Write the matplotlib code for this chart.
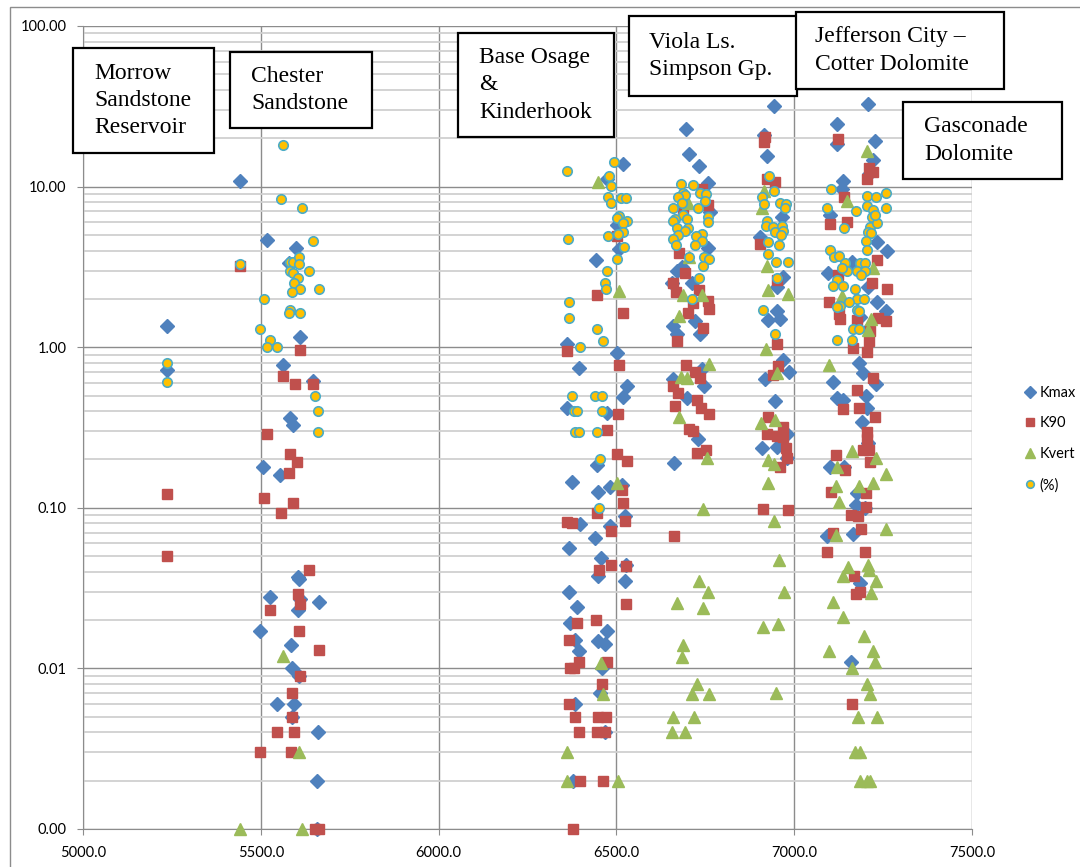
import matplotlib
matplotlib.use("Agg")
import matplotlib.pyplot as plt
from matplotlib.patches import Rectangle
from matplotlib.lines import Line2D
from matplotlib.ticker import LogLocator, NullFormatter, FixedLocator, FuncFormatter
import numpy as np

# (depth, value), grouped by formation
kmax = [
    # Morrow
    (5236, 1.36), (5236, 0.72),
    # Chester
    (5442, 10.8), (5517, 4.65), (5599, 4.15), (5579, 3.35), (5610, 1.16), (5562, 0.77),
    (5647, 0.62), (5582, 0.36), (5591, 0.33), (5506, 0.18), (5554, 0.16), (5605, 0.037),
    (5607, 0.036), (5526, 0.028), (5610, 0.027), (5664, 0.026), (5605, 0.023), (5498, 0.017),
    (5585, 0.014), (5588, 0.010), (5607, 0.009), (5546, 0.006), (5593, 0.006), (5588, 0.005),
    (5661, 0.004), (5658, 0.002), (5658, 0.001),
    # Base Osage & Kinderhook
    (6519, 13.8), (6474, 11.1), (6502, 5.75), (6507, 4.1), (6443, 3.5), (6361, 1.05),
    (6502, 0.92), (6395, 0.74), (6530, 0.57), (6519, 0.49), (6361, 0.42), (6474, 0.39),
    (6446, 0.185), (6375, 0.145), (6448, 0.125), (6482, 0.135), (6516, 0.139), (6524, 0.089),
    (6398, 0.079), (6482, 0.077), (6440, 0.065), (6367, 0.056), (6457, 0.049), (6448, 0.0376),
    (6527, 0.044), (6524, 0.035), (6367, 0.030), (6389, 0.024), (6370, 0.0192), (6474, 0.0171),
    (6384, 0.015), (6448, 0.0148), (6468, 0.0142), (6395, 0.0128), (6460, 0.010), (6454, 0.007),
    (6384, 0.006), (6468, 0.004), (6378, 0.002),
    # Viola / Simpson
    (6696, 22.8), (6704, 16.0), (6732, 13.4), (6758, 10.5), (6763, 6.95), (6758, 4.15),
    (6671, 3.0), (6685, 3.15), (6657, 2.5), (6713, 2.5), (6659, 1.355), (6721, 1.45),
    (6735, 1.21), (6671, 1.21), (6659, 0.63), (6741, 0.73), (6746, 0.575), (6699, 0.48),
    (6730, 0.27), (6662, 0.19),
    # ~6900-6990
    (6943, 31.8), (6915, 21.0), (6924, 15.5), (6966, 6.45), (6904, 4.85), (6969, 2.75),
    (6952, 2.37), (6952, 1.67), (6927, 1.47), (6960, 1.5), (6969, 0.83), (6986, 0.70),
    (6918, 0.63), (6946, 0.465), (6980, 0.29), (6910, 0.235), (6952, 0.24), (6980, 0.204),
    # Jefferson City / Gasconade
    (7208, 32.7), (7121, 24.5), (7227, 19.2), (7121, 18.4), (7222, 14.6), (7211, 12.0),
    (7137, 10.8), (7135, 9.65), (7233, 4.5), (7261, 3.95), (7101, 6.65), (7163, 3.4),
    (7095, 2.9), (7208, 2.37), (7233, 1.92), (7258, 1.67), (7185, 1.55), (7208, 1.3),
    (7182, 0.8), (7194, 0.69), (7109, 0.607), (7230, 0.59), (7121, 0.485), (7137, 0.47),
    (7202, 0.50), (7205, 0.42), (7191, 0.34), (7208, 0.253), (7101, 0.18), (7140, 0.18),
    (7177, 0.123), (7174, 0.104), (7199, 0.1), (7093, 0.067), (7166, 0.069), (7185, 0.034),
    (7160, 0.011),
]

k90 = [
    (5236, 0.122), (5236, 0.050),
    (5442, 3.2), (5610, 0.96), (5562, 0.66), (5596, 0.59), (5647, 0.59), (5517, 0.29),
    (5582, 0.216), (5602, 0.193), (5579, 0.165), (5509, 0.115), (5591, 0.107), (5557, 0.093),
    (5636, 0.041), (5605, 0.029), (5610, 0.025), (5526, 0.023), (5607, 0.017), (5664, 0.013),
    (5610, 0.009), (5588, 0.007), (5588, 0.005), (5546, 0.004), (5593, 0.004), (5498, 0.003),
    (5585, 0.003), (5652, 0.001), (5664, 0.001),
    (6502, 4.9), (6446, 2.1), (6519, 1.63), (6361, 0.95), (6507, 0.78), (6505, 0.384),
    (6474, 0.305), (6502, 0.216), (6530, 0.195), (6516, 0.129), (6519, 0.107), (6446, 0.093),
    (6361, 0.081), (6375, 0.080), (6524, 0.083), (6485, 0.072), (6451, 0.041), (6485, 0.044),
    (6527, 0.0435), (6527, 0.025), (6443, 0.020), (6389, 0.0192), (6367, 0.015), (6395, 0.011),
    (6370, 0.010), (6381, 0.010), (6474, 0.011), (6460, 0.008), (6367, 0.006), (6384, 0.005),
    (6448, 0.005), (6471, 0.005), (6395, 0.004), (6446, 0.004), (6468, 0.004), (6398, 0.002),
    (6462, 0.002), (6378, 0.001),
    (6741, 9.65), (6758, 7.65), (6687, 6.95), (6676, 3.85), (6693, 2.9), (6659, 2.5),
    (6668, 2.2), (6732, 2.27), (6716, 1.89), (6758, 1.94), (6761, 1.74), (6701, 1.63),
    (6744, 1.32), (6671, 1.1), (6696, 0.78), (6721, 0.7), (6735, 0.64), (6659, 0.57),
    (6673, 0.518), (6727, 0.47), (6665, 0.43), (6738, 0.42), (6761, 0.384), (6704, 0.31),
    (6716, 0.30), (6727, 0.22), (6752, 0.23), (6662, 0.067),
    (6918, 20.4), (6915, 19.0), (6946, 10.7), (6924, 11.1), (6904, 4.4), (6952, 2.62),
    (6952, 1.05), (6955, 0.76), (6941, 0.67), (6927, 0.365), (6924, 0.29), (6952, 0.28),
    (6969, 0.32), (6969, 0.275), (6977, 0.235), (6980, 0.204), (6960, 0.18), (6913, 0.098),
    (6983, 0.097),
    (7123, 19.8), (7211, 13.1), (7222, 12.3), (7205, 11.1), (7140, 8.6), (7101, 5.85),
    (7149, 6.0), (7123, 2.8), (7233, 3.5), (7219, 2.5), (7261, 2.3), (7098, 1.92),
    (7126, 1.6), (7129, 1.49), (7236, 1.53), (7258, 1.45), (7177, 1.47), (7213, 1.27),
    (7211, 1.1), (7166, 0.99), (7205, 0.93), (7222, 0.64), (7177, 0.54), (7137, 0.415),
    (7182, 0.42), (7227, 0.365), (7205, 0.297), (7205, 0.27), (7194, 0.23), (7211, 0.23),
    (7213, 0.193), (7118, 0.213), (7143, 0.172), (7104, 0.125), (7202, 0.123), (7202, 0.101),
    (7160, 0.090), (7180, 0.089), (7188, 0.074), (7109, 0.070), (7093, 0.053), (7199, 0.053),
    (7168, 0.0376), (7185, 0.030), (7174, 0.029), (7163, 0.006),
]

kvert = [
    (5562, 0.012), (5607, 0.003), (5442, 0.001), (5616, 0.001),
    (6448, 10.7), (6507, 2.25), (6502, 0.143), (6457, 0.0108), (6462, 0.0069), (6361, 0.003),
    (6361, 0.002), (6505, 0.002),
    (6701, 7.85), (6704, 3.65), (6687, 2.1), (6741, 2.1), (6676, 1.57), (6761, 0.79),
    (6682, 0.65), (6699, 0.64), (6676, 0.37), (6755, 0.204), (6744, 0.098), (6732, 0.035),
    (6758, 0.030), (6671, 0.0255), (6744, 0.0237), (6687, 0.014), (6685, 0.0118), (6727, 0.008),
    (6713, 0.0069), (6761, 0.0069), (6659, 0.005), (6718, 0.005), (6657, 0.004), (6693, 0.004),
    (6915, 9.4), (6910, 7.35), (6924, 3.2), (6927, 2.27), (6983, 2.15), (6921, 0.97),
    (6952, 0.69), (6907, 0.335), (6946, 0.35), (6927, 0.198), (6943, 0.188), (6927, 0.143),
    (6943, 0.083), (6958, 0.047), (6972, 0.030), (6913, 0.018), (6955, 0.019), (6949, 0.007),
    (7205, 16.7), (7149, 8.1), (7222, 3.1), (7135, 2.07), (7216, 1.5), (7208, 1.28),
    (7098, 0.77), (7163, 0.225), (7230, 0.204), (7121, 0.18), (7258, 0.162), (7118, 0.137),
    (7182, 0.137), (7222, 0.143), (7126, 0.109), (7258, 0.074), (7118, 0.068), (7151, 0.043),
    (7208, 0.044), (7137, 0.0376), (7211, 0.041), (7230, 0.035), (7216, 0.0295), (7109, 0.026),
    (7137, 0.021), (7196, 0.016), (7098, 0.0128), (7222, 0.0128), (7227, 0.011), (7163, 0.010),
    (7205, 0.008), (7213, 0.0069), (7180, 0.005), (7233, 0.005), (7171, 0.003), (7185, 0.003),
    (7185, 0.002), (7205, 0.002), (7213, 0.002),
]

pct = [
    (5236, 0.80), (5236, 0.61),
    (5442, 3.3), (5562, 18.2), (5557, 8.4), (5616, 7.4), (5647, 4.6), (5582, 3.4),
    (5591, 3.4), (5607, 3.65), (5607, 3.3), (5582, 3.0), (5591, 2.9), (5636, 3.0),
    (5605, 2.7), (5593, 2.5), (5610, 2.3), (5588, 2.2), (5664, 2.3), (5509, 2.0),
    (5582, 1.71), (5579, 1.63), (5610, 1.63), (5498, 1.3), (5526, 1.11), (5517, 1.0),
    (5546, 1.0), (5652, 0.50), (5661, 0.40), (5661, 0.297),
    (6361, 12.5), (6493, 14.3), (6479, 11.6), (6485, 10.1), (6476, 8.6), (6485, 7.85),
    (6513, 8.45), (6527, 8.45), (6507, 6.55), (6502, 6.4), (6530, 6.1), (6519, 5.9),
    (6519, 5.2), (6505, 5.05), (6476, 4.9), (6364, 4.7), (6521, 4.2), (6502, 3.55),
    (6474, 2.97), (6468, 2.5), (6471, 2.3), (6367, 1.92), (6367, 1.53), (6446, 1.3),
    (6462, 1.1), (6398, 1.0), (6375, 0.50), (6440, 0.50), (6460, 0.50), (6381, 0.40),
    (6389, 0.40), (6460, 0.40), (6384, 0.297), (6395, 0.297), (6446, 0.297), (6454, 0.2),
    (6451, 0.1),
    (6682, 10.4), (6716, 10.2), (6735, 9.1), (6752, 9.0), (6687, 9.1), (6693, 8.85),
    (6673, 8.6), (6685, 7.95), (6749, 8.1), (6659, 7.35), (6730, 7.35), (6687, 6.65),
    (6665, 6.3), (6659, 6.1), (6699, 6.3), (6758, 6.45), (6758, 6.0), (6671, 5.5),
    (6701, 5.5), (6693, 5.3), (6673, 5.0), (6741, 5.05), (6724, 4.9), (6659, 4.7),
    (6741, 4.6), (6721, 4.35), (6668, 4.3), (6704, 3.65), (6746, 3.65), (6761, 3.55),
    (6744, 3.2), (6732, 2.7), (6713, 1.99),
    (6929, 11.6), (6943, 9.4), (6910, 8.6), (6915, 7.75), (6960, 7.95), (6977, 7.75),
    (6974, 7.35), (6924, 6.1), (6921, 5.65), (6941, 5.6), (6946, 5.2), (6966, 5.65),
    (6969, 5.3), (6963, 5.0), (6927, 4.5), (6958, 4.3), (6927, 3.8), (6949, 3.4),
    (6983, 3.4), (6952, 2.68), (6913, 1.71), (6946, 1.21),
    (7104, 9.65), (7093, 7.35), (7174, 7.05), (7140, 5.5), (7205, 8.7), (7230, 8.6),
    (7258, 9.1), (7205, 7.55), (7222, 7.15), (7219, 6.45), (7213, 5.6), (7233, 5.9),
    (7227, 6.65), (7208, 5.2), (7216, 5.15), (7202, 4.6), (7205, 4.05), (7258, 7.35),
    (7101, 4.05), (7112, 3.65), (7126, 3.7), (7143, 3.35), (7149, 2.97), (7135, 3.1),
    (7185, 3.35), (7199, 3.35), (7177, 3.0), (7199, 2.97), (7188, 2.8), (7121, 2.62),
    (7109, 2.4), (7137, 2.4), (7171, 2.3), (7177, 1.99), (7196, 1.99), (7154, 1.92),
    (7129, 1.8), (7121, 1.78), (7177, 1.71), (7182, 1.69), (7166, 1.3), (7182, 1.3),
    (7121, 1.11), (7163, 1.11),
]

series_names = ["Kmax", "K90", "Kvert", "(%)"]
formation_labels = [
    "Morrow\nSandstone\nReservoir",
    "Chester\nSandstone",
    "Base Osage\n&\nKinderhook",
    "Viola Ls.\nSimpson Gp.",
    "Jefferson City \u2013\nCotter Dolomite",
    "Gasconade\nDolomite",
]

W, H = 1080, 867
fig = plt.figure(figsize=(W / 100, H / 100), dpi=100)
ax = fig.add_axes([83 / W, 1 - 829 / H, (972 - 83) / W, (829 - 26) / H])

styles = [
    dict(marker="D", ms=7.4, mfc="#4F81BD", mec="#4F81BD"),
    dict(marker="s", ms=7.0, mfc="#C0504D", mec="#C0504D"),
    dict(marker="^", ms=8.5, mfc="#9BBB59", mec="#9BBB59"),
    dict(marker="o", ms=6.8, mfc="#FFC000", mec="#4BACC6", mew=1.2),
]
for pts, name, st in zip([kmax, k90, kvert, pct], series_names, styles):
    x, y = zip(*pts)
    ax.plot(x, y, ls="none", label=name, clip_on=False, zorder=3, **st)

ax.set_yscale("log")
ax.set_ylim(0.001, 100)
ax.set_xlim(5000, 7500)
ax.yaxis.set_major_locator(FixedLocator([0.001, 0.01, 0.1, 1, 10, 100]))
ax.yaxis.set_minor_locator(LogLocator(base=10, subs=np.arange(2, 10)))
ax.yaxis.set_minor_formatter(NullFormatter())
ax.yaxis.set_major_formatter(FuncFormatter(lambda v, p: f"{v:.2f}"))
ax.xaxis.set_major_locator(FixedLocator(np.arange(5000, 7501, 500)))
ax.xaxis.set_major_formatter(FuncFormatter(lambda v, p: f"{v:.1f}"))

ax.set_axisbelow(True)
ax.grid(which="major", axis="both", color="#8C8C8C", lw=1.0)
ax.grid(which="minor", axis="y", color="#D0D0D0", lw=1.3)
for s in ["top", "right"]:
    ax.spines[s].set_visible(False)
for s in ["left", "bottom"]:
    ax.spines[s].set_color("#8C8C8C")
ax.tick_params(which="major", length=4, color="#8C8C8C", labelsize=10.5, pad=8)
ax.tick_params(which="minor", length=0)
for lab in ax.get_xticklabels() + ax.get_yticklabels():
    lab.set_family(["Lato", "DejaVu Sans"])

# outer chart border
fig.patches.append(Rectangle((10 / W, -0.01), 1.2, 1 - 7 / H + 0.01, transform=fig.transFigure,
                             fill=False, ec="#8C8C8C", lw=1.0))

# formation boxes: (left, top, right, bottom) in pixels and text left edge
boxes = [
    (73, 48, 214, 153, 94),
    (230, 52, 372, 128, 251),
    (458, 33, 614, 137, 479),
    (629, 16, 797, 96, 649),
    (796, 12, 1004, 89, 815),
    (903, 102, 1062, 179, 924),
]
for (l, t, r, b, tx), txt in zip(boxes, formation_labels):
    fig.patches.append(Rectangle((l / W, 1 - b / H), (r - l) / W, (b - t) / H,
                                 transform=fig.transFigure, fc="white", ec="black",
                                 lw=1.6, zorder=5))
    fig.text(tx / W, 1 - (t + b) / 2 / H, txt, ha="left", va="center",
             family=["Liberation Serif", "DejaVu Serif"], fontsize=17,
             linespacing=1.38, zorder=6)

handles = [Line2D([], [], ls="none", **dict(st, ms=st["ms"] * 0.8)) for st in styles]
leg = fig.legend(handles, series_names, loc="center left",
                 bbox_to_anchor=(1018 / W, 1 - 439 / H), frameon=False,
                 handlelength=0.7, handletextpad=0.3, labelspacing=1.15,
                 borderpad=0, prop={"family": ["Lato", "DejaVu Sans"], "size": 10.5})

fig.savefig("out.png", dpi=100)
